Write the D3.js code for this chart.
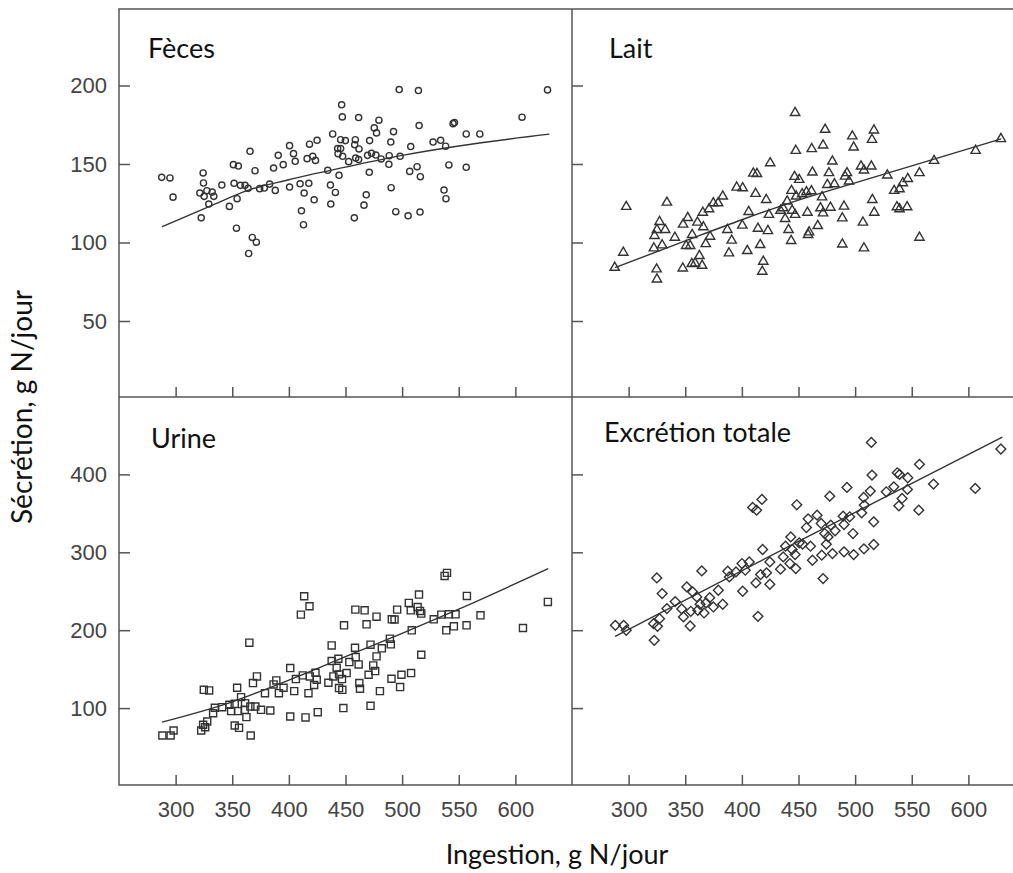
<!DOCTYPE html>
<html>
<head>
<meta charset="utf-8">
<script src="https://cdn.jsdelivr.net/npm/d3@7"></script>
<style>
  body { margin: 0; background: #fff; }
  svg { display: block; }
</style>
</head>
<body>
<div id="graph"></div>
<script>
const width = 1013
const height = 873

// ingestion ticks (shared by all panels)
const xTicks = [300, 350, 400, 450, 500, 550, 600]
const yTicksTop = [50, 100, 150, 200]
const yTicksBottom = [100, 200, 300, 400]

// [ingestion, secretion] in g N/jour
const feces = [[287.7,141.5],[295,141.1],[297.7,128.9],[322.6,115.7],[324.3,144.3],[324.6,137.9],[321.4,131.5],[325.2,129.4],[327.6,133],[332.3,132.1],[333.7,129.4],[329.3,124.5],[340.8,136.6],[347.5,123],[351,149.6],[355.4,148.7],[351.6,137.7],[354.3,127.9],[353.7,109.1],[357.2,136.4],[361.3,136.4],[364,134.5],[365.7,158.1],[367.7,103.2],[371.3,100.2],[364.5,93],[370.1,145.7],[374.2,134.3],[378.3,134.7],[383,137.2],[388,133.2],[386.5,147.4],[390.6,155.5],[395,149.6],[400.6,161.7],[404.1,156.6],[405.6,151.7],[400.6,135.3],[409.9,137.4],[413.5,131.5],[411.1,120.2],[412.9,111.3],[417.6,137.7],[416.1,153.4],[418.2,162.6],[421.1,154.9],[423.5,152.3],[424.9,165.1],[422.3,127.2],[434.3,146],[436.7,136.6],[437,124.5],[441.1,131.9],[444.3,142.8],[438.7,169.1],[446.6,187.7],[447.2,180],[445.7,165.5],[449.9,164.9],[443.1,159.8],[445.7,159.8],[443.4,156.6],[447.5,154.9],[452.8,151.5],[458.7,165.5],[458.1,162.3],[461.9,159.6],[461.6,179.6],[459,153.8],[461.6,152.8],[457.8,115.7],[466.3,123.8],[468.3,130.4],[471,144.7],[469.5,155.5],[473,156.8],[476.8,155.7],[471.3,164.9],[475.4,173],[477.4,169.8],[479.5,177.9],[481.5,153.2],[488.3,149.8],[488.6,155.3],[490,164],[492.4,170.6],[490.3,134.9],[494.4,119.6],[497.4,197.4],[498.2,154.9],[505.3,117],[506.7,145.3],[507.6,161.1],[513.2,148.3],[514.4,196.8],[515,174.5],[516.1,141.9],[515.8,119.4],[527.3,164],[534,165.1],[538.4,161.3],[537,133.4],[538.7,127.9],[541.3,149.4],[545,175.7],[546.2,176.4],[556.6,169.1],[556.6,147.9],[568.6,169.1],[605.9,179.8],[628.4,197.2]]

const lait = [[287.7,84],[295.3,93.6],[297.9,122.8],[325,76.6],[324.7,83],[322.3,96.4],[322.9,104.3],[325,108.1],[327.3,113.2],[332.3,108.1],[329.6,98.3],[333.8,125.5],[340.8,103.2],[348.1,111.5],[352.2,115.7],[347.8,83.6],[350.8,97.9],[354.3,97.9],[356.1,104.9],[355.8,86.4],[358.7,86.8],[362.5,91.5],[364.9,85.3],[360.8,112.8],[366,109.8],[365.5,119.1],[368.1,99.1],[371.9,103.8],[371,121.3],[374.8,125.1],[379,125.1],[383.1,129.4],[387.2,108.1],[391,101.3],[388.6,93.2],[395.4,135.1],[400.7,134.7],[400.4,110.9],[404.8,94.7],[406,119.6],[410.1,144],[413.3,143.8],[412.1,131.1],[414.2,108.9],[416.2,98.5],[418.9,87.9],[418,81.5],[421.5,127.2],[423,107.4],[423.9,117.7],[425,150.6],[434.1,120.4],[438.2,115.1],[436.5,121.9],[440,126.2],[441.2,108.1],[443.5,101.1],[443.8,133],[444.4,120.4],[447,117.7],[447,182.6],[447.6,158.5],[446.5,141.9],[450.6,140],[447.9,129.4],[453.2,130.9],[457.9,119.1],[458.5,104.9],[459.4,106.6],[457,132.1],[461.4,132.8],[461.7,159.6],[462.3,144.7],[467,110.6],[469.4,121.9],[470.8,128.9],[471.7,161.9],[471.7,118.7],[473.5,171.9],[475.5,136.8],[476.9,144.3],[478.2,122.3],[479.9,151.7],[481.7,137.2],[488.7,98.9],[488.7,115.5],[490.2,123],[491.1,142.1],[492.8,144.3],[494.6,139],[497.5,167.7],[498.7,160.6],[505.2,148.5],[507.8,146],[506.9,112.8],[507.8,96.4],[514.3,148.5],[514.9,165.5],[516.6,171.5],[515.2,127.2],[516.9,119.1],[528.4,142.8],[534.5,133],[539.2,134],[542.1,137.9],[546.5,140.6],[536.9,122.6],[539.2,121.3],[545.9,122.6],[556.8,144.3],[556.8,103.2],[569.7,152.1],[606.4,158.5],[628.7,166]]

const urine = [[288.3,64.8],[295.6,64.8],[298.2,71.2],[322.6,71.2],[324.3,78.5],[326.1,75.5],[327.9,82.8],[324.9,123.5],[329.6,122.7],[333.1,93.5],[334.6,100.4],[341.1,101.2],[347.5,104.2],[349,96.1],[352.2,77.7],[356,74.7],[354.3,126.1],[355.1,96.1],[352.2,105.5],[357.8,114.1],[361.3,106.4],[361,97.8],[362.5,88.4],[366,102.1],[366.3,64.8],[365.1,184],[368.3,132.1],[371.8,140.7],[370.4,102.1],[375.4,97.8],[378.9,119.2],[383.6,96.9],[388.9,135.5],[386.5,130.4],[391.2,119.2],[395.3,126.1],[401.2,151.4],[401.2,89.2],[404.7,121.8],[406.2,137.3],[410.6,220],[413.5,243.6],[418.2,230.7],[412.3,142],[414.7,88],[417.3,119.2],[418.5,140.7],[422.3,129.7],[423.5,145.4],[424.6,136.4],[425.5,94.8],[434.9,132.5],[437.8,180.5],[437.8,160.4],[439.3,140.7],[442.2,151.8],[443.7,163.4],[444.3,143.3],[446.9,137.3],[444.3,125.7],[447.2,123.5],[448.1,100],[448.7,206.3],[451,145],[453.4,159.1],[458.4,177.5],[458.7,226.4],[459,165.5],[461.6,156.1],[462.2,132.1],[462.8,124.8],[466.9,225.5],[468.6,207.5],[470.4,142.8],[472.1,102.9],[472.1,181.4],[474.5,154.8],[476.2,147.5],[477.4,166.4],[477.4,217.4],[480.4,121.8],[482.1,176.7],[489.2,189.1],[490,181.8],[490.9,214],[493.3,213.7],[490.6,137.7],[495.6,226.4],[499.4,142.8],[498.2,127],[505.9,235],[507.6,225.5],[508.5,199.8],[507.9,145],[514.9,245.7],[513.7,229.8],[515.8,224.7],[516.9,221.3],[516.9,168.5],[527.9,214],[534.6,220],[537.5,269.7],[539.6,273.6],[539,199.8],[541.3,220.4],[545.7,205],[547.2,220.4],[557.2,244],[556.9,206.3],[569.2,219.1],[606.7,202.8],[628.7,236.3]]

const totale = [[288.3,206.3],[295.6,206.3],[297.9,199.8],[322.6,187],[324.9,267.1],[322,208.4],[325.5,205],[327.3,214.8],[329.6,247],[333.8,227.7],[341.1,236.7],[346.9,227.3],[348.4,217],[351.4,255.6],[354.3,205.4],[354.9,224.3],[356.6,249.1],[360.2,242.7],[361.1,225.6],[363.1,233.3],[364.6,276.1],[366.6,222.1],[368.4,235],[371.6,241.8],[374.8,229.8],[379.2,251.3],[383.1,233.3],[387.5,275.7],[388.9,268.4],[394.8,274.8],[400.1,285.6],[400.7,250],[403,277],[406.5,287.7],[409.5,357.6],[413,354.1],[417.7,367.9],[412.4,260.7],[414.2,217.8],[418.3,303.6],[416.5,271.4],[421.8,273.6],[424.7,259],[424.7,287.7],[434.1,278.3],[436.5,294.1],[438.5,307.8],[442.4,285.6],[443.2,319.8],[444.4,303.6],[447,297.1],[447.6,279.1],[448.5,361],[450.6,312.1],[453.6,310.4],[457,331.8],[458.5,343],[460.6,307.8],[462.3,289.8],[466.4,347.7],[470,337],[470.5,296.3],[471.7,266.3],[473.2,324.1],[474.6,310.4],[476.1,319.8],[477.6,372.1],[478.5,334.8],[480,298.4],[482.3,327.6],[489.4,346.4],[490.2,335.7],[490.2,300.6],[492.8,383.3],[495.2,345.6],[498.1,324.1],[498.7,297.1],[505.8,350.7],[507.5,370.4],[507.8,304.4],[508.1,360.6],[513.4,378.6],[514.9,399.1],[514.3,441.1],[516.4,339.1],[516.4,310],[527.5,377.7],[534.2,384.1],[537.2,402.1],[539.2,400],[538.6,359.7],[541.5,369.1],[546.5,395.7],[546.2,380.7],[556.8,412.9],[556.2,354.1],[569.2,387.6],[606.1,382],[628.7,432.6]]

// fitted curves
const fecesFit = [[288,110],[330,123],[365,133.5],[400,140],[450,148],[500,155.5],[550,161.5],[630,169]]
const laitFit = [[288,84],[350,101],[400,114.5],[450,127],[500,138],[550,148.8],[629,166]]
const urineFit = [[288,82],[350,108],[400,136],[450,166],[500,196],[550,227],[629,279]]
const totaleFit = [[288,192],[450,314],[630,448]]

const svg = d3.select('#graph')
  .append('svg')
  .attr('width', width)
  .attr('height', height)

const leftX = 119, midX = 572, topY = 9, midY = 397
const panelW = 453, panelH = 388
const ink = '#333'
const frameColor = '#555'

const xScale = d3.scaleLinear().domain([250, 650]).range([0, panelW])
const yTop = d3.scaleLinear().domain([0, 250]).range([390.5, -2])
const yBottom = d3.scaleLinear().domain([0, 500]).range([389, -0.5])

const panels = [
  {name: 'Fèces', data: feces, fit: fecesFit, sym: d3.symbolCircle, size: 30, col: 0, row: 0, lx: 29, ly: 49},
  {name: 'Lait', data: lait, fit: laitFit, sym: d3.symbolTriangle, size: 38, col: 1, row: 0, lx: 37, ly: 49},
  {name: 'Urine', data: urine, fit: urineFit, sym: d3.symbolSquare, size: 50, col: 0, row: 1, lx: 32, ly: 51},
  {name: 'Excrétion totale', data: totale, fit: totaleFit, sym: d3.symbolSquare, size: 48, rot: 45, col: 1, row: 1, lx: 32, ly: 45}
]

panels.forEach((p) => {
  const y = p.row === 0 ? yTop : yBottom
  const g = svg.append('g')
    .attr('transform', `translate(${p.col === 0 ? leftX : midX},${p.row === 0 ? topY : midY})`)

  // y ticks (inside), labels only on the left column
  const ay = g.append('g')
    .call(d3.axisLeft(y)
      .tickValues(p.row === 0 ? yTicksTop : yTicksBottom)
      .tickSize(-11)
      .tickPadding(12)
      .tickFormat(p.col === 0 ? d3.format('d') : ''))
  // x ticks (inside), labels only on the bottom row
  const ax = g.append('g')
    .attr('transform', `translate(0,${panelH})`)
    .call(d3.axisBottom(xScale)
      .tickValues(xTicks)
      .tickSize(-10)
      .tickPadding(16)
      .tickFormat(p.row === 1 ? d3.format('d') : ''))

  ;[ax, ay].forEach((a) => {
    a.select('.domain').remove()
    a.selectAll('line').attr('stroke', frameColor).attr('stroke-width', 1.5)
    a.selectAll('text')
      .attr('fill', '#444')
      .style('font-family', '"Liberation Sans", Arial, sans-serif')
      .style('font-size', '22px')
  })

  const line = d3.line()
    .x((d) => xScale(d[0]))
    .y((d) => y(d[1]))
    .curve(d3.curveMonotoneX)

  g.append('path')
    .datum(p.fit)
    .attr('d', line)
    .attr('fill', 'none')
    .attr('stroke', ink)
    .attr('stroke-width', 1.4)

  g.selectAll('.pt')
    .data(p.data)
    .join('path')
    .attr('class', 'pt')
    .attr('d', d3.symbol().type(p.sym).size(p.size))
    .attr('transform', (d) => `translate(${xScale(d[0])},${y(d[1])})` + (p.rot ? ` rotate(${p.rot})` : ''))
    .attr('fill', 'none')
    .attr('stroke', ink)
    .attr('stroke-width', 1.4)

  g.append('text')
    .attr('x', p.lx)
    .attr('y', p.ly)
    .text(p.name)
    .attr('fill', '#111')
    .style('font-family', 'Lato, sans-serif')
    .style('font-size', '27px')
})

// frame
svg.append('rect')
  .attr('x', leftX).attr('y', topY)
  .attr('width', panelW * 2).attr('height', panelH * 2)
  .attr('fill', 'none').attr('stroke', frameColor).attr('stroke-width', 1.5)
svg.append('line')
  .attr('x1', midX).attr('x2', midX).attr('y1', topY).attr('y2', topY + panelH * 2)
  .attr('stroke', frameColor).attr('stroke-width', 1.5)
svg.append('line')
  .attr('x1', leftX).attr('x2', leftX + panelW * 2).attr('y1', midY).attr('y2', midY)
  .attr('stroke', frameColor).attr('stroke-width', 1.5)

// axis titles
svg.append('text')
  .attr('x', 557).attr('y', 864)
  .attr('text-anchor', 'middle')
  .attr('fill', '#111')
  .style('font-family', 'Lato, sans-serif')
  .style('font-size', '27px')
  .text('Ingestion, g N/jour')

svg.append('text')
  .attr('transform', 'translate(32,407) rotate(-90)')
  .attr('text-anchor', 'middle')
  .attr('fill', '#111')
  .style('font-family', 'Lato, sans-serif')
  .style('font-size', '28px')
  .text('Sécrétion, g N/jour')
</script>
</body>
</html>
